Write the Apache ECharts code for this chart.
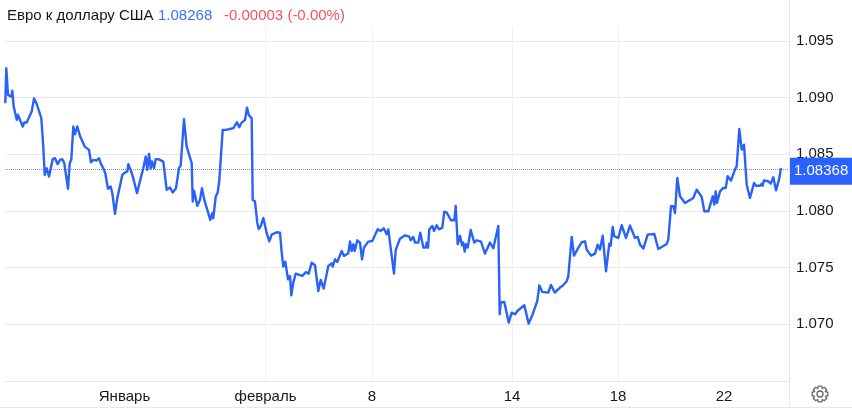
<!DOCTYPE html>
<html><head><meta charset="utf-8">
<style>html,body{margin:0;padding:0;background:#fff}#c{width:852px;height:409px}</style>
<script src="https://cdn.jsdelivr.net/npm/echarts@6/dist/echarts.min.js"></script>
</head><body><div id="c"></div>
<script>
const barIndex=[0.3,1.3,3,6.3,7.3,8.7,11.7,13,15,17.7,19.3,21.7,23.3,26.7,29,31.7,33.7,36.3,38.3,39.7,41.7,44,47.7,50,52.7,55,57.3,59.3,60.7,63,64.7,66.3,68.3,70,72.3,75,76.7,79.7,81,84,86,88.3,91.7,94,96,98.3,100.3,103,105.7,107.3,110,112.3,114.3,117.3,120,122.3,123.3,126,128.3,132,134,135.3,138.3,140.7,142.3,144,145.7,147,149,150.7,153.3,158.3,161.7,165,167.7,171,174,175.7,179,181.7,186.7,187.7,189,190.3,192.3,195,197,199.3,202.3,205.3,207.3,208.3,210.7,212.7,214.3,215.7,217.7,219,221,228.3,230,232,234.3,236.7,240,242,243.7,246.7,247.7,250,252.3,253.7,255.7,258.3,261.7,264.3,266.7,271.7,275,276.7,278.3,280.3,283,285,286.3,288.3,290.7,297.3,301,303.7,306.7,310,313.3,315.7,318.7,323.3,326.7,327.7,330,332.3,336.7,339,343.3,345,346.7,348.3,349.7,352.3,355,357,359,360.3,363.3,367.3,372.7,375.7,378.7,381.7,383.3,389,390.7,392.3,395,397,400,404.3,405.7,408.3,410,413.3,415.3,418.3,420.7,421.7,423,424.3,426,427.3,429,431.7,434,437.3,439.3,441.7,446,449.3,450.7,452.7,455,457,458.3,459.7,461,462.7,465.7,467.3,469.3,471.7,476,480,485,488.3,493.3,494.7,495.7,499.3,503.7,506.7,510.3,512.3,514,519.3,523.7,527.3,529.3,532.3,534.3,537.3,543.3,546,549.7,551.7,555,557.7,561.7,563.3,566.7,569,570.7,573.3,576.7,580,581.7,586,590,592.7,595,597.7,601,602.3,604.3,605.7,607.7,609.3,613.3,616.7,621,625,630,632.7,635,638.3,642.7,649.3,653.3,661.7,663.3,666,668.3,670,672.3,675,680,688.3,691.7,696.7,699.3,703.3,707.7,709.3,710.7,712,715,718.3,720.7,722.7,726,730,731.7,734.3,736.7,739,741.7,745,749,751,755,756.7,757.7,759,763.3,765.7,768.3,771,774,776];
const rates=[1.08951,1.09259,1.09024,1.09009,1.09062,1.08921,1.08804,1.08848,1.08848,1.08745,1.08780,1.08780,1.08765,1.08877,1.08992,1.08945,1.08951,1.08818,1.08568,1.08318,1.08377,1.08304,1.08457,1.08466,1.08413,1.08451,1.08457,1.08421,1.08430,1.08195,1.08421,1.08451,1.08745,1.08677,1.08745,1.08662,1.08651,1.08568,1.08583,1.08539,1.08430,1.08451,1.08445,1.08466,1.08415,1.08377,1.08333,1.08195,1.08216,1.08157,1.07975,1.08113,1.08127,1.08318,1.08339,1.08348,1.08413,1.08354,1.08289,1.08157,1.08230,1.08230,1.08377,1.08480,1.08363,1.08504,1.08377,1.08436,1.08377,1.08457,1.08457,1.08436,1.08186,1.08207,1.08163,1.08201,1.08377,1.08401,1.08809,1.08568,1.08421,1.08083,1.08180,1.08171,1.08045,1.08098,1.08201,1.08098,1.08010,1.07922,1.07980,1.07936,1.08127,1.08163,1.08269,1.08274,1.08715,1.08707,1.08715,1.08730,1.08721,1.08783,1.08739,1.08780,1.08804,1.08912,1.08848,1.08818,1.08098,1.08083,1.07894,1.07841,1.07865,1.07938,1.07806,1.07732,1.07791,1.07812,1.07809,1.07633,1.07509,1.07553,1.07397,1.07427,1.07256,1.07368,1.07447,1.07427,1.07462,1.07447,1.07544,1.07521,1.07294,1.07391,1.07315,1.07515,1.07538,1.07509,1.07574,1.07550,1.07647,1.07603,1.07627,1.07732,1.07647,1.07706,1.07647,1.07741,1.07721,1.07574,1.07677,1.07662,1.07730,1.07735,1.07838,1.07824,1.07847,1.07794,1.07838,1.07447,1.07656,1.07656,1.07756,1.07750,1.07785,1.07774,1.07741,1.07771,1.07721,1.07721,1.07809,1.07677,1.07677,1.07721,1.07677,1.07838,1.07824,1.07868,1.07824,1.07874,1.07838,1.07853,1.07994,1.07985,1.07918,1.07918,1.08044,1.07706,1.07780,1.07697,1.07721,1.07641,1.07706,1.07677,1.07832,1.07824,1.07721,1.07741,1.07730,1.07624,1.07721,1.07671,1.07868,1.07089,1.07192,1.07197,1.07015,1.07103,1.07089,1.07118,1.07112,1.07168,1.07006,1.07080,1.07089,1.07206,1.07344,1.07286,1.07280,1.07347,1.07280,1.07265,1.07324,1.07340,1.07380,1.07424,1.07771,1.07606,1.07606,1.07674,1.07724,1.07732,1.07659,1.07606,1.07624,1.07703,1.07659,1.07782,1.07468,1.07483,1.07712,1.07694,1.07859,1.07777,1.07762,1.07874,1.07762,1.07871,1.07762,1.07771,1.07703,1.07668,1.07791,1.07797,1.07665,1.07709,1.07747,1.08041,1.08041,1.07982,1.08291,1.08129,1.08071,1.08115,1.08188,1.08123,1.07997,1.07997,1.08129,1.08056,1.08173,1.08071,1.08173,1.08203,1.08203,1.08306,1.08268,1.08365,1.08394,1.08723,1.08541,1.08585,1.08232,1.08115,1.08247,1.08223,1.08223,1.08241,1.08223,1.08270,1.08262,1.08241,1.08297,1.08182,1.08276,1.08379];
const xTickIndex=[119.5,260.5,367,507,613,719];
const xTickLabels=['Январь','февраль','8','14','18','22'];
const titleName='Евро к доллару США';
const lastValue='1.08268';
const changeText='-0.00003 (-0.00%)';
const currentPrice=1.08368;
const FONT='"Liberation Sans",Arial,sans-serif';
const GRID='#e6e8ea', VGRID='#eef0f2', TXT='#131722', BLUE='#2962ff';
const c=echarts.init(document.getElementById('c'),null,{renderer:'canvas'});
function gearPoints(cx,cy,ro,ri,n){const p=[];for(let i=0;i<n;i++){const a=i*2*Math.PI/n,w=Math.PI/n;
 [[ri,a-w],[ro,a-w*0.55],[ro,a+w*0.55]].forEach(([r,t])=>p.push([cx+r*Math.cos(t),cy+r*Math.sin(t)]));}return p;}
c.setOption({
 animation:false,
 title:{text:`{n|${titleName}}{v|${lastValue}}{d|${changeText}}`,left:7,top:8,padding:0,
  textStyle:{fontWeight:'normal',rich:{n:{fontFamily:FONT,fontSize:15,fontWeight:'normal',color:TXT,width:151},v:{fontFamily:FONT,fontSize:15,fontWeight:'normal',color:'#3f72f5',width:66},d:{fontFamily:FONT,fontSize:15,fontWeight:'normal',color:'#f2545f'}}}},
 grid:{left:5,right:63,top:27,bottom:28},
 xAxis:{type:'value',min:0,max:784,
  axisLine:{show:true,lineStyle:{color:GRID,width:1}},axisTick:{show:false,customValues:xTickIndex},
  axisLabel:{customValues:xTickIndex,color:TXT,fontFamily:FONT,fontSize:15,margin:8,hideOverlap:false,showMinLabel:true,showMaxLabel:true,
   formatter:v=>xTickLabels[xTickIndex.indexOf(v)]||''},
  splitLine:{show:true,showMinLine:false,showMaxLine:false,lineStyle:{color:VGRID,width:1}}},
 yAxis:{type:'value',position:'right',min:1.065,max:1.09623,interval:0.005,
  axisLine:{show:false,onZero:false},axisTick:{show:false},
  axisLabel:{color:TXT,fontFamily:FONT,fontSize:15,margin:7,showMinLabel:false,showMaxLabel:false,formatter:v=>v.toFixed(3)},
  splitLine:{show:true,showMaxLine:false,lineStyle:{color:GRID,width:1}}},
 series:[{type:'line',data:barIndex.map((x,i)=>[x,rates[i]]),showSymbol:false,symbol:'none',smooth:false,
  lineStyle:{color:'#2962f8',width:2.4,join:'round'},z:5,
  markLine:{silent:true,symbol:'none',animation:false,precision:5,
   lineStyle:{color:'#7f93bd',type:[1,1],width:1},
   label:{position:'end',formatter:'{c}',color:'#fff',backgroundColor:BLUE,fontFamily:FONT,fontSize:15,padding:[6,4,6,4],distance:1,offset:[0,2]},
   data:[{yAxis:currentPrice}]}}],
 graphic:[
  {type:'line',silent:true,shape:{x1:789.5,y1:0,x2:789.5,y2:407},style:{stroke:GRID,lineWidth:1}},
  {type:'line',silent:true,shape:{x1:0,y1:407.5,x2:852,y2:407.5},style:{stroke:GRID,lineWidth:1}},
  {type:'polygon',silent:true,shape:{points:gearPoints(820,394,8,6,8)},style:{fill:'none',stroke:'#666',lineWidth:1.3}},
  {type:'circle',silent:true,shape:{cx:820,cy:394,r:3},style:{fill:'none',stroke:'#666',lineWidth:1.3}}
 ]
});
</script></body></html>
